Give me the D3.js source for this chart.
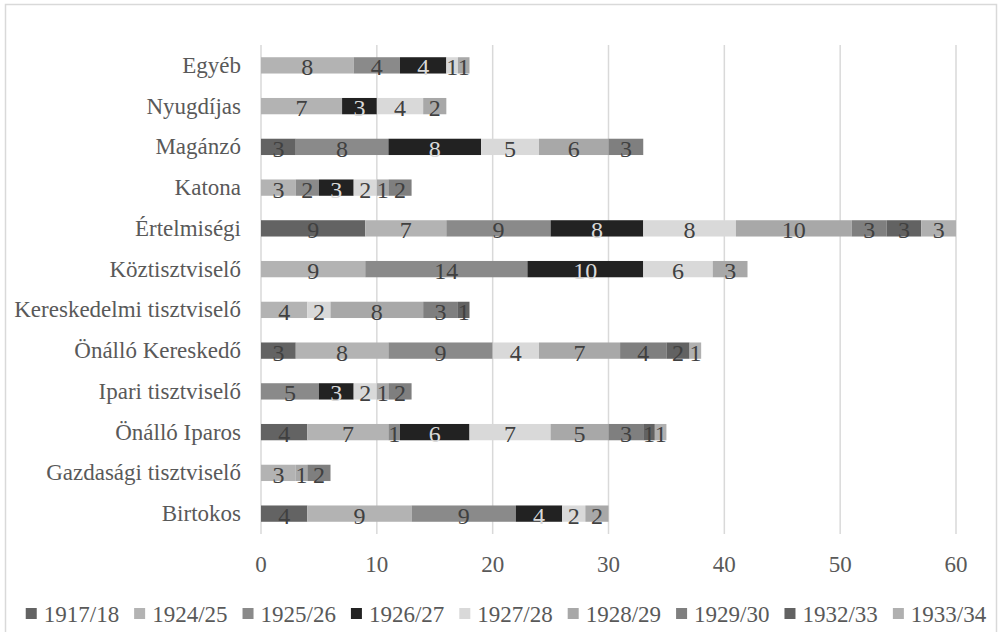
<!DOCTYPE html>
<html lang="en">
<head>
    <meta charset="UTF-8">
    <title></title>
    <style>
        body { margin: 0; background: #fff; }
    </style>
</head>
<script src="https://d3js.org/d3.v7.min.js"></script>
<body>
<script>
    var categories = ["Egyéb", "Nyugdíjas", "Magánzó", "Katona", "Értelmiségi", "Köztisztviselő",
        "Kereskedelmi tisztviselő", "Önálló Kereskedő", "Ipari tisztviselő", "Önálló Iparos",
        "Gazdasági tisztviselő", "Birtokos"];
    var seriesNames = ["1917/18", "1924/25", "1925/26", "1926/27", "1927/28", "1928/29", "1929/30", "1932/33", "1933/34"];

    // values per series, same order as categories (top to bottom)
    var v1917 = [0, 0, 3, 0, 9, 0, 0, 3, 0, 4, 0, 4];
    var v1924 = [8, 7, 0, 3, 7, 9, 4, 8, 0, 7, 3, 9];
    var v1925 = [4, 0, 8, 2, 9, 14, 0, 9, 5, 1, 0, 9];
    var v1926 = [4, 3, 8, 3, 8, 10, 0, 0, 3, 6, 0, 4];
    var v1927 = [1, 4, 5, 2, 8, 6, 2, 4, 2, 7, 0, 2];
    var v1928 = [1, 2, 6, 1, 10, 3, 8, 7, 1, 5, 1, 2];
    var v1929 = [0, 0, 3, 2, 3, 0, 3, 4, 2, 3, 2, 0];
    var v1932 = [0, 0, 0, 0, 3, 0, 1, 2, 0, 1, 0, 0];
    var v1933 = [0, 0, 0, 0, 3, 0, 0, 1, 0, 1, 0, 0];
    var xTicks = [0, 10, 20, 30, 40, 50, 60];

    var seriesValues = [v1917, v1924, v1925, v1926, v1927, v1928, v1929, v1932, v1933];
    var colors = ["#636363", "#b3b3b3", "#8a8a8a", "#222222", "#d9d9d9", "#a8a8a8", "#7f7f7f", "#626262", "#b0b0b0"];
    var font = "'Liberation Serif', 'Times New Roman', Times, serif";

    var data = categories.map(function (c, i) {
        var row = {category: c};
        seriesNames.forEach(function (s, j) { row[s] = seriesValues[j][i]; });
        return row;
    });

    var svg = d3.select("body")
        .append("svg")
        .attr("width", 999)
        .attr("height", 632)
        .attr("font-family", font);

    svg.append("rect")
        .attr("x", 5.5).attr("y", 4.5)
        .attr("width", 991).attr("height", 640)
        .attr("fill", "#fff")
        .attr("stroke", "#d9d9d9")
        .attr("stroke-width", 1.5);

    var xScale = d3.scaleLinear().domain([0, 60]).range([261, 956]),
        yScale = d3.scaleBand().domain(categories).range([45, 534]).paddingInner(0.6).paddingOuter(0.3);

    // gridlines
    svg.append("g")
        .selectAll("line")
        .data(xTicks)
        .enter().append("line")
        .attr("x1", function (d) { return xScale(d); })
        .attr("x2", function (d) { return xScale(d); })
        .attr("y1", 45)
        .attr("y2", 534)
        .attr("stroke", "#d9d9d9")
        .attr("stroke-width", 1.5);

    svg.append("g")
        .selectAll("text")
        .data(xTicks)
        .enter().append("text")
        .attr("x", function (d) { return xScale(d); })
        .attr("y", 572)
        .attr("text-anchor", "middle")
        .attr("font-size", "23px")
        .attr("fill", "#595959")
        .text(function (d) { return d; });

    svg.append("g")
        .selectAll("text")
        .data(categories)
        .enter().append("text")
        .attr("x", 241)
        .attr("y", function (d) { return yScale(d) + yScale.bandwidth() / 2 + 7.5; })
        .attr("text-anchor", "end")
        .attr("font-size", "23px")
        .attr("fill", "#595959")
        .text(function (d) { return d; });

    var stack = d3.stack().keys(seriesNames)(data);

    var layers = svg.append("g")
        .selectAll("g")
        .data(stack)
        .enter().append("g")
        .attr("fill", function (d, i) { return colors[i]; });

    layers.selectAll("rect")
        .data(function (d) { return d; })
        .enter().append("rect")
        .attr("x", function (d) { return xScale(d[0]); })
        .attr("y", function (d) { return yScale(d.data.category); })
        .attr("width", function (d) { return xScale(d[1]) - xScale(d[0]); })
        .attr("height", yScale.bandwidth());

    layers.each(function (layer, i) {
        d3.select(this).selectAll("text")
            .data(layer.filter(function (d) { return d[1] - d[0] > 0; }))
            .enter().append("text")
            .attr("x", function (d) { return (xScale(d[0]) + xScale(d[1])) / 2; })
            .attr("y", function (d) { return yScale(d.data.category) + yScale.bandwidth() / 2 + 10; })
            .attr("text-anchor", "middle")
            .attr("font-size", "24px")
            .attr("fill", seriesNames[i] === "1926/27" ? "#d9d9d9" : "#404040")
            .text(function (d) { return d[1] - d[0]; });
    });

    // legend
    var legend = svg.append("g");
    var items = legend.selectAll("g")
        .data(seriesNames)
        .enter().append("g");
    items.append("rect")
        .attr("width", 11).attr("height", 11)
        .attr("y", 608)
        .attr("fill", function (d, i) { return colors[i]; });
    items.append("text")
        .attr("x", 18)
        .attr("y", 622)
        .attr("font-size", "23px")
        .attr("fill", "#595959")
        .text(function (d) { return d; });

    var widths = [];
    items.select("text").each(function () { widths.push(18 + this.getComputedTextLength()); });
    var gap = 15;
    var total = d3.sum(widths) + gap * (widths.length - 1);
    var pos = 506 - total / 2;
    items.attr("transform", function (d, i) {
        var t = "translate(" + pos + ",0)";
        pos += widths[i] + gap;
        return t;
    });
</script>
</body>
</html>
